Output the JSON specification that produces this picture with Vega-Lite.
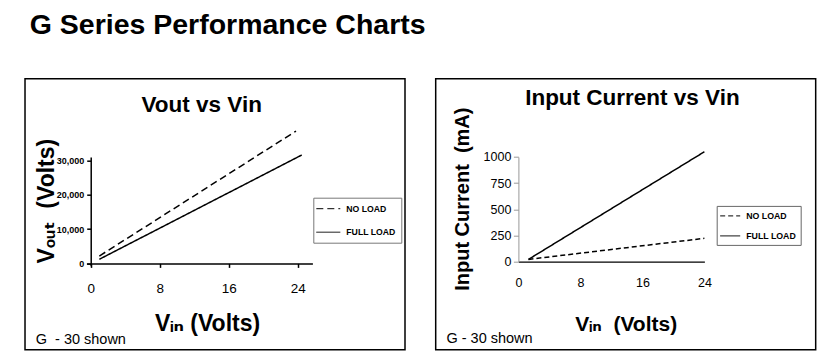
{
  "$schema": "https://vega.github.io/schema/vega-lite/v6.json",
  "background": "white",
  "padding": {"left": 24, "top": 10.7, "right": 5, "bottom": 2},
  "title": {"text": "G Series Performance Charts", "anchor": "start", "dx": 5.5, "offset": 15, "baseline": "alphabetic", "fontSize": 28.5, "fontWeight": "bold", "font": "Liberation Sans", "color": "black"},
  "spacing": 28.7,
  "resolve": {"scale": {"strokeDash": "independent"}, "legend": {"strokeDash": "independent"}},
  "config": {"view": {"stroke": "black", "strokeWidth": 1.5}},
  "hconcat": [
    {
      "title": {"text": "Vout vs Vin", "orient": "top", "anchor": "middle", "offset": -56.5, "dx": -13.3, "baseline": "alphabetic", "fontSize": 22.5, "fontWeight": "bold", "font": "Liberation Sans", "color": "black"},
      "hconcat": [
        {
          "width": 380,
          "height": 271,
          "title": {"text": "G\u00a0\u00a0- 30 shown", "orient": "bottom", "anchor": "start", "offset": -6, "dx": 10.75, "baseline": "alphabetic", "fontSize": 14.5, "fontWeight": "normal", "font": "Liberation Sans", "color": "black"},
          "data": {"values": [
            {"vin": 1, "value": 1200, "load": "FULL LOAD"},
            {"vin": 24.46, "value": 31570, "load": "FULL LOAD"},
            {"vin": 1, "value": 2150, "load": "NO LOAD"},
            {"vin": 23.8, "value": 38560, "load": "NO LOAD"}
          ]},
          "mark": {"type": "line", "color": "black", "strokeWidth": 1.5, "clip": false},
          "encoding": {
            "x": {"field": "vin", "type": "quantitative",
              "scale": {"domain": [-0.5, 25.7], "range": [61.4, 287.4], "nice": false, "zero": false},
              "axis": {"orient": "bottom", "offset": -86.3, "values": [0, 8, 16, 24], "labelFont": "Liberation Sans", "labelFontSize": 13.5, "labelColor": "black", "labelPadding": 14, "labelFlush": false, "tickSize": 4, "tickColor": "black", "tickWidth": 1.5, "domainColor": "black", "domainWidth": 1.5, "grid": false,
                "title": "Vᵢₙ (Volts)", "titleFont": "Liberation Sans, DejaVu Sans", "titleFontSize": 23, "titleFontWeight": "bold", "titleColor": "black", "titleX": 182, "titleY": 67.6, "titleBaseline": "alphabetic", "titleAlign": "center"}},
            "y": {"field": "value", "type": "quantitative",
              "scale": {"domain": [-700, 31000], "range": [187.1, 78.3], "nice": false, "zero": false},
              "axis": {"orient": "left", "offset": -65.7, "values": [0, 10000, 20000, 30000], "format": ",d", "labelFont": "Liberation Sans", "labelFontSize": 9, "labelFontWeight": "bold", "labelColor": "black", "labelPadding": 3, "labelFlush": false, "tickSize": 4, "tickColor": "black", "tickWidth": 1.5, "domainColor": "black", "domainWidth": 1.5, "grid": false,
                "title": "Vₒᵤₜ\u00a0\u00a0(Volts)", "titleFont": "Liberation Sans, DejaVu Sans", "titleFontSize": 23, "titleFontWeight": "bold", "titleColor": "black", "titleAngle": 270, "titleX": -37, "titleY": 122, "titleBaseline": "alphabetic", "titleAlign": "center"}},
            "strokeDash": {"field": "load", "type": "nominal",
              "scale": {"domain": ["NO LOAD", "FULL LOAD"], "range": [[7, 4], [1, 0]]},
              "legend": {"title": null, "orient": "none", "legendX": 288.3, "legendY": 119, "padding": 5, "strokeColor": "#777", "fillColor": "white", "symbolType": "M-2.18,0H2.18", "symbolSize": 121, "symbolStrokeWidth": 1, "symbolStrokeColor": "black", "symbolFillColor": "transparent", "symbolOffset": 4, "labelOffset": 12, "rowPadding": 12.5, "labelFont": "Liberation Sans", "labelFontSize": 8.7, "labelFontWeight": "bold", "labelColor": "black"}}
          }
        }
      ]
    },
    {
      "title": {"text": "Input Current vs Vin", "orient": "top", "anchor": "middle", "offset": -49.5, "dx": 6.7, "baseline": "alphabetic", "fontSize": 22.5, "fontWeight": "bold", "font": "Liberation Sans", "color": "black"},
      "hconcat": [
        {
          "width": 380,
          "height": 271,
          "title": {"text": "G - 30 shown", "orient": "bottom", "anchor": "start", "offset": -6.75, "dx": 10.75, "baseline": "alphabetic", "fontSize": 14.5, "fontWeight": "normal", "font": "Liberation Sans", "color": "black"},
          "data": {"values": [
            {"vin": 1.3, "value": 22, "load": "FULL LOAD"},
            {"vin": 24, "value": 1050, "load": "FULL LOAD"},
            {"vin": 1.3, "value": 22, "load": "NO LOAD"},
            {"vin": 24, "value": 223, "load": "NO LOAD"}
          ]},
          "mark": {"type": "line", "color": "black", "strokeWidth": 1.5, "clip": false},
          "encoding": {
            "x": {"field": "vin", "type": "quantitative",
              "scale": {"domain": [0, 24], "range": [82.7, 268.7], "nice": false, "zero": false},
              "axis": {"orient": "bottom", "offset": -88, "values": [0, 8, 16, 24], "labelFont": "Liberation Sans", "labelFontSize": 12.5, "labelColor": "black", "labelPadding": 15, "labelFlush": false, "ticks": false, "tickSize": 0, "domainColor": "black", "domainWidth": 1.2, "grid": false,
                "title": "Vᵢₙ\u00a0\u00a0(Volts)", "titleFont": "Liberation Sans, DejaVu Sans", "titleFontSize": 21, "titleFontWeight": "bold", "titleColor": "black", "titleX": 190, "titleY": 69.3, "titleBaseline": "alphabetic", "titleAlign": "center"}},
            "y": {"field": "value", "type": "quantitative",
              "scale": {"domain": [0, 1000], "range": [183, 78.3], "nice": false, "zero": false},
              "axis": {"orient": "left", "offset": -82.7, "values": [0, 250, 500, 750, 1000], "format": "d", "labelFont": "Liberation Sans", "labelFontSize": 12.5, "labelColor": "black", "labelPadding": 2.5, "labelFlush": false, "tickSize": 5, "tickColor": "#999", "tickWidth": 1, "domainColor": "#999", "domainWidth": 1, "grid": false,
                "title": "Input Current\u00a0\u00a0(mA)", "titleFont": "Liberation Sans", "titleFontSize": 20, "titleFontWeight": "bold", "titleColor": "black", "titleAngle": 270, "titleX": -49.7, "titleY": 120, "titleBaseline": "alphabetic", "titleAlign": "center"}},
            "strokeDash": {"field": "load", "type": "nominal",
              "scale": {"domain": ["NO LOAD", "FULL LOAD"], "range": [[5, 3], [1, 0]]},
              "legend": {"title": null, "orient": "none", "legendX": 281, "legendY": 127.2, "padding": 4, "strokeColor": "#666", "fillColor": "white", "symbolType": "M-1.82,0H1.82", "symbolSize": 121, "symbolStrokeWidth": 1, "symbolStrokeColor": "black", "symbolFillColor": "transparent", "symbolOffset": 3.5, "labelOffset": 10, "rowPadding": 9, "labelFont": "Liberation Sans", "labelFontSize": 8.8, "labelFontWeight": "bold", "labelColor": "black"}}
          }
        }
      ]
    }
  ]
}
